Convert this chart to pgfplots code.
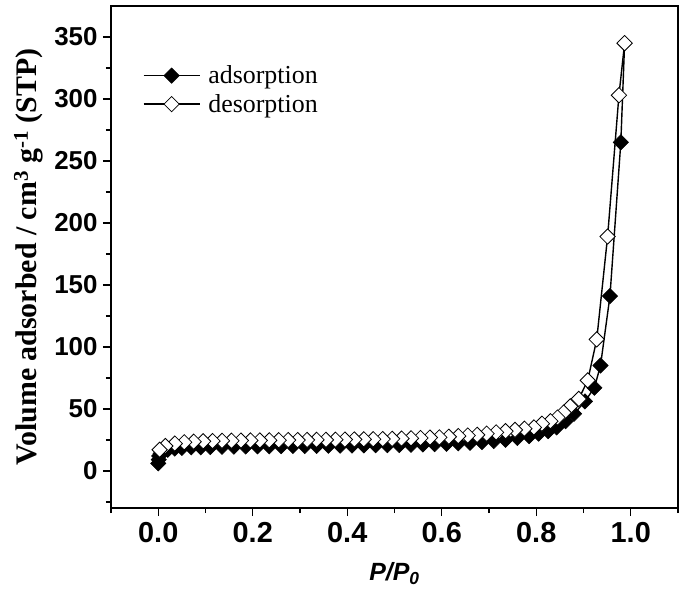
\documentclass[border=0pt]{standalone}
\usepackage{pgfplots}
\pgfplotsset{compat=1.18}
\usepackage{fontspec}
\setmainfont{Liberation Serif}
\newfontfamily\arial{Liberation Sans}
\begin{document}
\begin{tikzpicture}
\begin{axis}[
  scale only axis, width=567bp, height=502bp,
  xmin=-0.1, xmax=1.1, ymin=-30, ymax=375,
  xtick={0,0.2,0.4,0.6,0.8,1.0},
  minor xtick={-0.1,0.1,0.3,0.5,0.7,0.9,1.1},
  ytick={0,50,100,150,200,250,300,350},
  minor ytick={-25,25,75,125,175,225,275,325},
  xticklabels={0.0,0.2,0.4,0.6,0.8,1.0},
  xtick pos=bottom, ytick pos=left, tick align=outside,
  major tick length=8bp, minor tick length=5bp,
  every tick/.style={black, line width=1.4bp},
  axis line style={line width=1.6bp},
  /pgf/number format/assume math mode=true,
  yticklabel style={font=\arial\bfseries\fontsize{26}{26}\selectfont, xshift=-2bp},
  xticklabel style={font=\arial\bfseries\fontsize{29}{29}\selectfont, yshift=-3bp},
  xlabel={\arial\bfseries\itshape\fontsize{25}{25}\selectfont P/P\textsubscript{0}},
  ylabel={\bfseries\fontsize{30}{30}\selectfont Volume adsorbed / cm\textsuperscript{3} g\textsuperscript{-1} (STP)},
  xlabel style={yshift=-13bp},
  ylabel style={yshift=4bp},
  legend style={at={(0.056,0.885)}, anchor=north west, draw=none, fill=none,
    font=\fontsize{26}{26}\selectfont, row sep=5bp, inner sep=0pt,
    nodes={inner xsep=8bp}},
  legend cell align=left,
  legend image code/.code={\draw[mark repeat=2,mark phase=2,#1] plot coordinates {(0bp,0bp) (28bp,0bp) (56bp,0bp)};},
]
\addplot[black, line width=1.4bp, mark=square*, mark size=5.4bp,
  mark options={rotate=45, fill=black, draw=black, line width=0.6bp, solid}]
coordinates {
(0.000,6)(0.001,9)(0.002,12)(0.005,14)(0.01,16)(0.02,17)(0.035,18)(0.05,18.5)(0.07,19)(0.09,19)
(0.11,19.2)(0.135,19.4)(0.16,19.5)(0.185,19.6)(0.21,19.7)(0.235,19.8)(0.26,19.9)(0.285,20)(0.31,20)
(0.335,20.1)(0.36,20.2)(0.385,20.3)(0.41,20.4)(0.435,20.5)(0.46,20.6)(0.485,20.7)(0.51,20.8)(0.535,21)
(0.56,21.2)(0.585,21.5)(0.61,21.8)(0.635,22.2)(0.66,22.6)(0.685,23.2)(0.71,24)(0.735,25)(0.76,26.5)
(0.785,28)(0.805,30)(0.825,32)(0.843,35)(0.862,40)(0.88,46)(0.903,56)(0.923,67)(0.936,85)(0.956,141)
(0.979,265)(0.987,345)
};
\addlegendentry{adsorption}
\addplot[black, line width=1.4bp, mark=square*, mark size=5.4bp,
  mark options={rotate=45, fill=white, draw=black, line width=0.8bp, solid}]
coordinates {
(0.987,345)(0.975,303)(0.951,189)(0.928,106)(0.909,73)(0.89,58)(0.872,52)(0.858,47)(0.845,43)(0.83,40)
(0.812,38)(0.795,35)(0.775,34)(0.755,33)(0.735,32)(0.715,31)(0.695,30)(0.675,29)(0.655,28.5)(0.635,28)
(0.615,27.5)(0.595,27)(0.575,26.8)(0.555,26.5)(0.535,26.2)(0.515,26)(0.495,25.8)(0.475,25.6)(0.455,25.5)
(0.435,25.4)(0.415,25.3)(0.395,25.2)(0.375,25.1)(0.355,25)(0.335,25)(0.315,24.9)(0.295,24.8)(0.275,24.8)
(0.255,24.7)(0.235,24.6)(0.215,24.5)(0.195,24.5)(0.175,24.4)(0.155,24.3)(0.135,24.2)(0.115,24)(0.095,23.8)
(0.075,23.5)(0.055,23)(0.035,22)(0.015,20)(0.003,17)
};
\addlegendentry{desorption}
\end{axis}
\path ([shift={(-111bp,-91bp)}]current axis.south west) rectangle ([shift={(7bp,6bp)}]current axis.north east);
\end{tikzpicture}
\end{document}
